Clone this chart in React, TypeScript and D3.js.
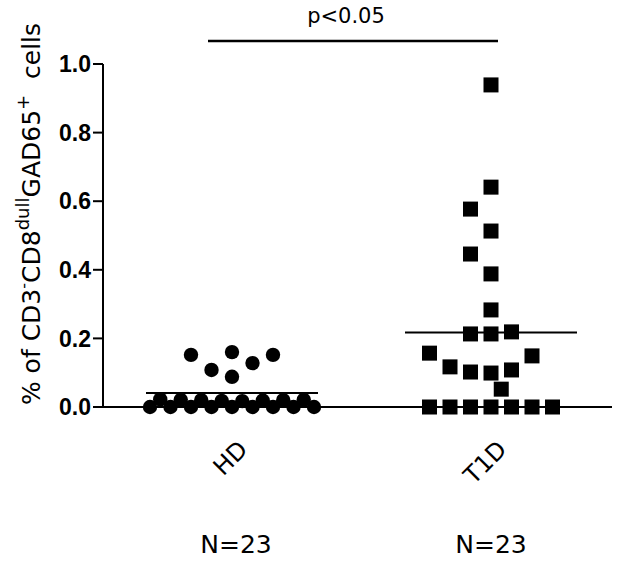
import React from 'react';
import * as d3 from 'd3';

// scatter dot plot, mean line per group, GraphPad style

const GROUPS = ['HD', 'T1D'];
const N_LABELS = ['N=23', 'N=23'];
const HD_VALUES = [
  0, 0, 0, 0, 0, 0, 0, 0, 0,
  0.02, 0.018, 0.021, 0.019, 0.022, 0.017, 0.02, 0.021,
  0.088, 0.108, 0.128, 0.152, 0.152, 0.16,
];
const T1D_VALUES = [
  0, 0, 0, 0, 0, 0, 0,
  0.052, 0.099, 0.102, 0.108, 0.117, 0.149, 0.157,
  0.213, 0.213, 0.219, 0.283, 0.388, 0.446, 0.513, 0.577, 0.641, 0.939,
];
const Y_TICKS = [0, 0.2, 0.4, 0.6, 0.8, 1.0];
const P_LABEL = 'p<0.05';

const W = 626;
const H = 561;
const SANS = '"DejaVu Sans", Verdana, sans-serif';
const ARIAL = '"Liberation Sans", Arial, sans-serif';

// greedy column layout: prefer whole columns near the centre, then half columns
const CANDIDATES = [0, -1, 1, -2, 2, -3, 3, 0.5, -0.5, 1.5, -1.5, 2.5, -2.5, 3.5, -3.5, -4, 4, -5, 5, -6, 6];
function dotLayout(values: number[], y: (v: number) => number, spacing: number, yGap: number) {
  const order = values.map((v, i) => i).sort((a, b) => values[a] - values[b]);
  const placed: { x: number; y: number }[] = [];
  const out = new Array(values.length);
  order.forEach((i) => {
    const py = y(values[i]);
    for (const c of CANDIDATES) {
      const px = c * spacing;
      const hit = placed.some((p) =>
        (Math.abs(p.x - px) < 0.45 * spacing && Math.abs(p.y - py) < yGap) ||
        (Math.abs(p.y - py) < 3 && Math.abs(p.x - px) < 0.95 * spacing));
      if (!hit) {
        placed.push({ x: px, y: py });
        out[i] = { dx: px, y: py, v: values[i] };
        break;
      }
    }
  });
  return out;
}

export default function App() {
  const y = d3.scaleLinear().domain([0, 1]).range([407, 64]);
  const x = d3.scalePoint<string>().domain(GROUPS).range([232, 491]);
  const axisX0 = 103;
  const axisX1 = 612;
  const spacing = 20.5;

  const hd = dotLayout(HD_VALUES, y, spacing, 23);
  const t1d = dotLayout(T1D_VALUES, y, spacing, 23);
  const means = [d3.mean(HD_VALUES) as number, d3.mean(T1D_VALUES) as number];
  const meanHalf = 86;

  return (
    <svg width={W} height={H} style={{ position: 'absolute', left: 0, top: 0, background: '#fff' }}>
      {/* y axis */}
      <line x1={axisX0} x2={axisX0} y1={y(1)} y2={y(0)} stroke="#000" strokeWidth={2} />
      {Y_TICKS.map((t) => (
        <g key={t}>
          <line x1={axisX0 - 10} x2={axisX0} y1={y(t)} y2={y(t)} stroke="#000" strokeWidth={2} />
          <text x={91} y={y(t)} dy="0.36em" textAnchor="end" fontFamily={ARIAL} fontWeight="bold" fontSize={23}>
            {d3.format('.1f')(t)}
          </text>
        </g>
      ))}
      {/* x axis */}
      <line x1={axisX0} x2={axisX1} y1={y(0)} y2={y(0)} stroke="#000" strokeWidth={2} />

      {/* y title */}
      <text
        transform={`translate(40, 214) rotate(-90)`}
        textAnchor="middle"
        fontFamily={SANS}
        fontSize={25}
        style={{ whiteSpace: 'pre' }}
      >
        <tspan>% of CD3</tspan>
        <tspan fontSize={16} dy={-11}>-</tspan>
        <tspan dy={11}>CD8</tspan>
        <tspan fontSize={18} dy={-11}>dull</tspan>
        <tspan dy={11}>GAD65</tspan>
        <tspan fontSize={18} dy={-11}>+</tspan>
        <tspan dy={11}>{'  cells'}</tspan>
      </text>

      {/* HD circles */}
      {hd.map((d, i) => (
        <circle key={'hd' + i} cx={(x('HD') as number) + d.dx} cy={d.y} r={7.2} fill="#000" />
      ))}
      {/* T1D squares */}
      {t1d.map((d, i) => (
        <rect key={'t1d' + i} x={(x('T1D') as number) + d.dx - 7.5} y={d.y - 7.5} width={15} height={15} fill="#000" />
      ))}

      {/* mean lines */}
      {GROUPS.map((g, i) => (
        <line key={g} x1={(x(g) as number) - meanHalf} x2={(x(g) as number) + meanHalf}
          y1={y(means[i])} y2={y(means[i])} stroke="#000" strokeWidth={2} />
      ))}

      {/* category labels */}
      {GROUPS.map((g) => (
        <text key={g} transform={`translate(${(x(g) as number) + 17}, 451) rotate(-45)`}
          textAnchor="end" fontFamily={SANS} fontSize={24}>
          {g}
        </text>
      ))}
      {GROUPS.map((g, i) => (
        <text key={'n' + g} x={(x(g) as number) + (i === 0 ? 4 : 0)} y={553} textAnchor="middle" fontFamily={SANS} fontSize={25}>
          {N_LABELS[i]}
        </text>
      ))}

      {/* significance bar */}
      <line x1={208} x2={498} y1={41} y2={41} stroke="#000" strokeWidth={2.5} />
      <text x={346} y={23} textAnchor="middle" fontFamily={SANS} fontSize={21}>{P_LABEL}</text>
    </svg>
  );
}
